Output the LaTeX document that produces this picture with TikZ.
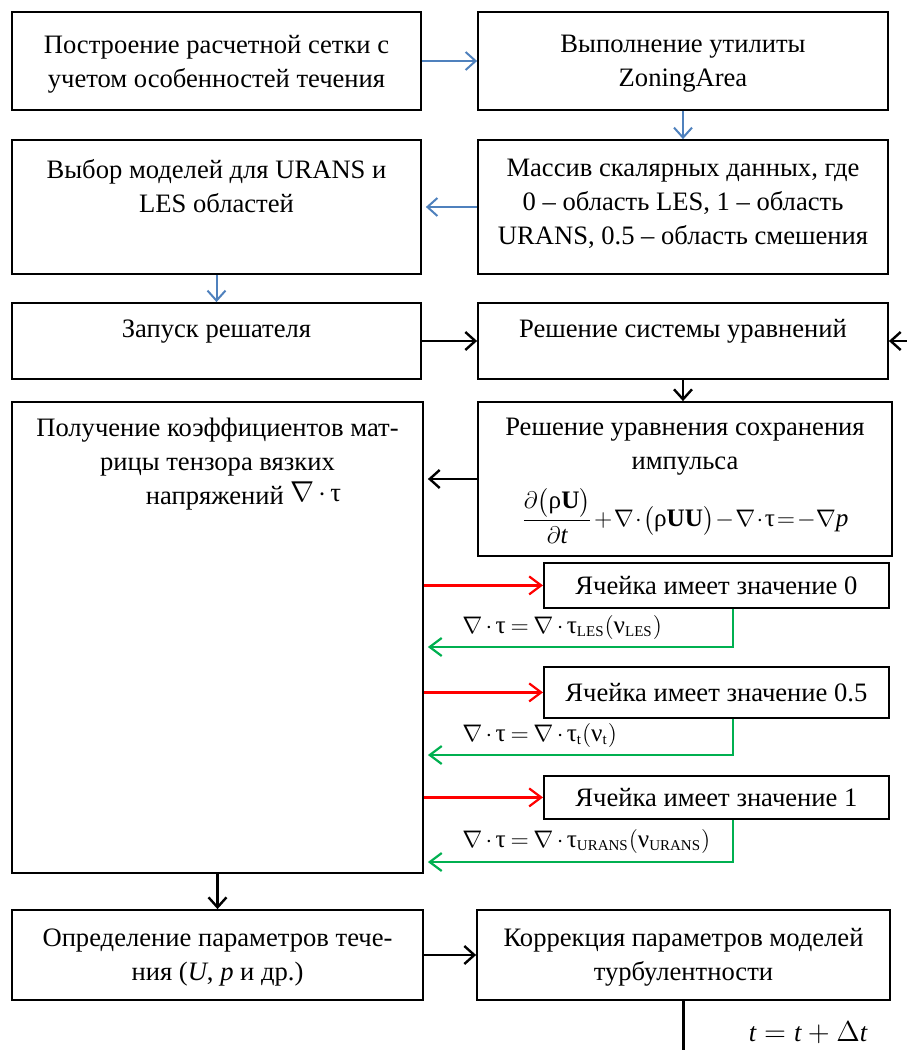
\documentclass[tikz,border=0pt]{standalone}
\usepackage{amsmath}
\usepackage{fontspec}
\setmainfont{Liberation Serif}
\usetikzlibrary{arrows.meta,fit,calc}
\definecolor{myblue}{RGB}{79,129,189}
\definecolor{myred}{RGB}{255,0,0}
\definecolor{mygreen}{RGB}{0,176,80}
\newcommand\ttau{\text{τ}}
\newcommand\nnu{\text{ν}}
\newcommand\rrho{\text{ρ}}
\newcommand\sbs[1]{_{\text{\fontsize{7.5}{8}\selectfont #1}}}
\newcommand\tightmath{\medmuskip=2.5mu\thickmuskip=3.5mu}
\newcommand\vtightmath{\medmuskip=1mu\thickmuskip=1.5mu}
\begin{document}
\begin{tikzpicture}[x=0.5pt,y=-0.5pt,
  box/.style={draw=black, line width=0.9pt, inner sep=0pt},
  txt/.style={align=center, inner sep=0pt, font=\fontsize{13.3}{17}\selectfont},
  lbl/.style={inner sep=0pt, font=\fontsize{12.6}{15}\selectfont},
  barr/.style={draw=myblue, line width=1pt, -{Straight Barb[length=5pt,width=9pt]}},
  karr/.style={draw=black, line width=1.2pt, -{Straight Barb[length=5pt,width=9pt]}},
  rarr/.style={draw=myred, line width=1.1pt, -{Straight Barb[length=6pt,width=9pt]}},
  garr/.style={draw=mygreen, line width=1.1pt, -{Straight Barb[length=6pt,width=9pt]}},
  kline/.style={draw=black, line width=1.2pt}]
\useasboundingbox (0,0) rectangle (906,1050);

% boxes
\node[box, fit={(12,12) (421,110)}] (A) {};
\node[box, fit={(478,12) (888,110)}] (B) {};
\node[box, fit={(12,140) (421,274)}] (C) {};
\node[box, fit={(478,140) (888,274)}] (D) {};
\node[box, fit={(12,303) (421,379)}] (E) {};
\node[box, fit={(478,303) (888,379)}] (F) {};
\node[box, fit={(12,402) (423,873)}] (G) {};
\node[box, fit={(478,402) (892,556)}] (H) {};
\node[box, fit={(12,910) (423,1000)}] (I) {};
\node[box, fit={(477,910) (890,1000)}] (J) {};
\node[box, txt, minimum width=172.5pt, minimum height=22.5pt, anchor=north west] (c0) at (543,562) {Ячейка имеет значение 0};
\node[box, txt, minimum width=172.5pt, minimum height=25.5pt, anchor=north west] (c1) at (543,666) {Ячейка имеет значение 0.5};
\node[box, txt, minimum width=172.5pt, minimum height=21.5pt, anchor=north west] (c2) at (543,775) {Ячейка имеет значение 1};

% texts
\node[txt, anchor=north] (At) at ([yshift=-12pt]A.north) {Построение расчетной сетки с\\учетом особенностей течения};
\node[txt, anchor=north] (Bt) at ([yshift=-12pt]B.north) {Выполнение утилиты\\ZoningArea};
\node[txt, anchor=north] (Ct) at ([yshift=-10pt]C.north) {Выбор моделей для URANS и\\LES областей};
\node[txt, anchor=north] (Dt) at ([yshift=-10pt]D.north) {Массив скалярных данных, где\\0 – область LES, 1 – область\\URANS, 0.5 – область смешения};
\node[txt, anchor=north] (Et) at ([yshift=-8.5pt]E.north) {Запуск решателя};
\node[txt, anchor=north] (Ft) at ([yshift=-8.5pt]F.north) {Решение системы уравнений};
\node[txt, anchor=north] (Gt) at ([yshift=-8.5pt]G.north) {Получение коэффициентов мат-\\рицы тензора вязких\\\hspace*{26pt}напряжений \raisebox{1.5pt}{$\tightmath\nabla\cdot\ttau$}};
\node[txt, anchor=north] (Ht) at ([yshift=-8.5pt]H.north) {Решение уравнения сохранения\\импульса};
\node[txt, font=\fontsize{12.6}{15}\selectfont] (Heq) at (685,516) {$\vtightmath\displaystyle \frac{\partial\bigl(\rrho\text{\bfseries U}\bigr)}{\partial \textit{t}} + \nabla\cdot\bigl(\rrho\text{\bfseries UU}\bigr) - \nabla\cdot\ttau = -\nabla \textit{p}$};
\node[txt, anchor=north] (It) at ([yshift=-9.5pt]I.north) {Определение параметров тече-\\ния (\textit{U}, \textit{p} и др.)};
\node[txt, anchor=north] (Jt) at ([yshift=-9.5pt]J.north) {Коррекция параметров моделей\\турбулентности};

% labels of green arrows
\node[lbl, anchor=west] (l0) at (462,627) {$\tightmath\nabla\cdot\ttau = \nabla\cdot\ttau\sbs{LES}(\nnu\sbs{LES})$};
\node[lbl, anchor=west] (l1) at (462,735) {$\tightmath\nabla\cdot\ttau = \nabla\cdot\ttau\sbs{t}(\nnu\sbs{t})$};
\node[lbl, anchor=west] (l2) at (462,841) {$\tightmath\nabla\cdot\ttau = \nabla\cdot\ttau\sbs{URANS}(\nnu\sbs{URANS})$};
\node[txt] (dt) at (808,1033) {$\textit{t} = \textit{t} + \Delta \textit{t}$};

% helper coordinates
\coordinate (gx) at (733,0);
\coordinate (g0) at (0,647);
\coordinate (g1) at (0,755);
\coordinate (g2) at (0,862);
\coordinate (rin) at (915,341);
\coordinate (bot) at (0,1055);

% blue arrows
\draw[barr] (A.east) -- (B.west);
\draw[barr] (B.south) -- (D.north);
\draw[barr] (D.west) -- ([xshift=2pt]C.east);
\draw[barr] (C.south) -- (E.north);

% black arrows
\draw[karr] (E.east) -- (F.west);
\draw[karr] (rin) -- (F.east);
\draw[karr] (F.south) -- (F.south |- H.north);
\draw[karr] (H.west) -- ([xshift=2pt]G.east |- H.west);
\draw[karr] (G.south) -- (G.south |- I.north);
\draw[karr] (I.east) -- (J.west);
\draw[kline] (J.south) -- (J.south |- bot);

% red arrows
\draw[rarr] (G.east |- c0.west) -- (c0.west);
\draw[rarr] (G.east |- c1.west) -- (c1.west);
\draw[rarr] (G.east |- c2.west) -- (c2.west);

% green arrows
\draw[garr] (gx |- c0.south) |- ([xshift=2pt]G.east |- g0);
\draw[garr] (gx |- c1.south) |- ([xshift=2pt]G.east |- g1);
\draw[garr] (gx |- c2.south) |- ([xshift=2pt]G.east |- g2);
\end{tikzpicture}
\end{document}
